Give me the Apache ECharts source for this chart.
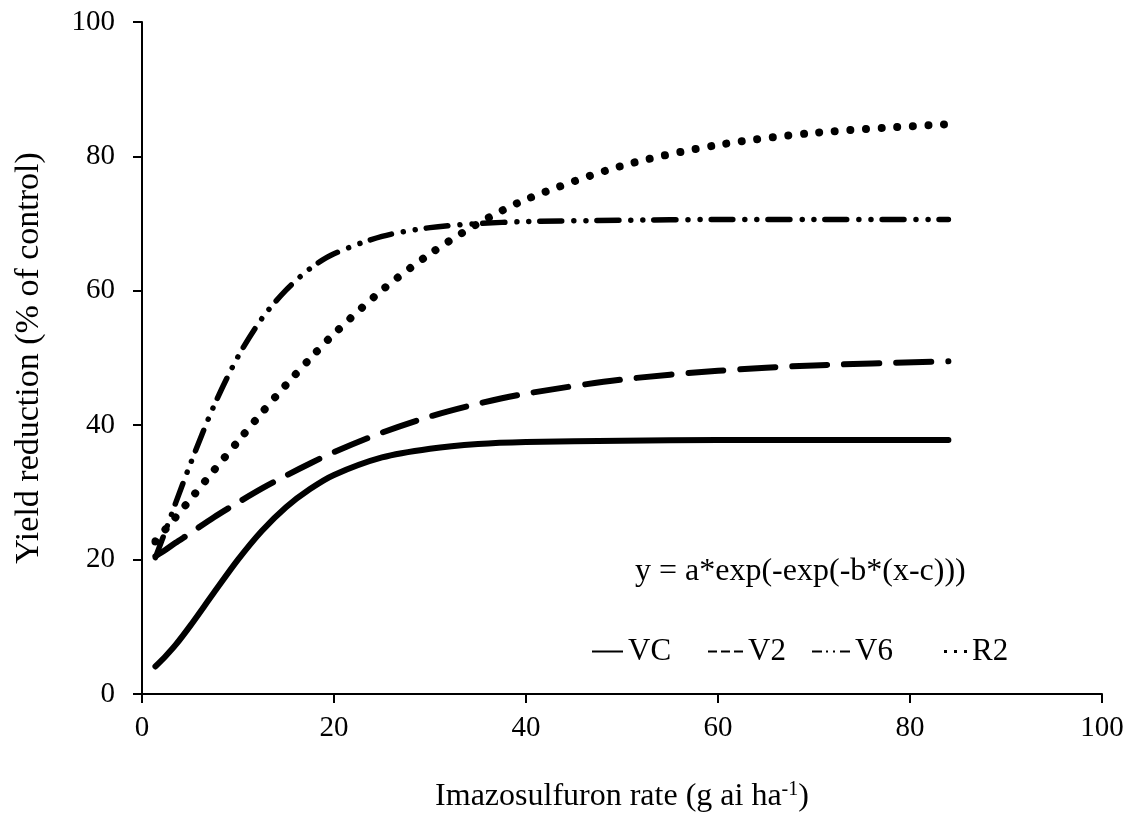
<!DOCTYPE html>
<html>
<head>
<meta charset="utf-8">
<script src="https://cdn.jsdelivr.net/npm/echarts@6/dist/echarts.min.js"></script>
<style>
html,body{margin:0;padding:0;background:#fff;}
#chart{width:1131px;height:821px;}
</style>
</head>
<body>
<div id="chart"></div>
<script>
// Imazosulfuron rate (g ai/ha)
var rates = [1.4, 2.5, 3.5, 5, 7.5, 10, 12.5, 15, 17.5, 20, 25, 30, 35, 40, 50, 60, 70, 84];
// Yield reduction (% of control)
var vcValues = [4.1, 5.7, 7.3, 10.1, 15.1, 20.0, 24.3, 27.8, 30.5, 32.6, 35.2, 36.5, 37.2, 37.5, 37.7, 37.8, 37.8, 37.8];
var v2Values = [20.5, 21.5, 22.5, 23.9, 26.3, 28.5, 30.6, 32.5, 34.3, 36.0, 38.9, 41.3, 43.2, 44.7, 46.8, 48.1, 48.9, 49.5];
var v6Values = [20.3, 24.5, 28.4, 34.1, 42.9, 50.2, 55.9, 60.1, 63.3, 65.5, 68.1, 69.4, 70.0, 70.3, 70.5, 70.6, 70.6, 70.6];
var r2Values = [22.7, 24.6, 26.3, 28.9, 33.3, 37.6, 41.9, 46.0, 49.9, 53.6, 60.1, 65.5, 70.0, 73.6, 78.6, 81.7, 83.5, 84.8];
var seriesNames = ['VC', 'V2', 'V6', 'R2'];
var equationText = 'y = a*exp(-exp(-b*(x-c)))';
var xTitle = 'Imazosulfuron rate (g ai ha';
var yTitle = 'Yield reduction (% of control)';

function pairs(ys) { return rates.map(function (x, i) { return [x, ys[i]]; }); }

var FONT = 'Liberation Serif';
var chart = echarts.init(document.getElementById('chart'), null, {renderer: 'canvas'});

function mkLegend(name, icon, w, left) {
  return {
    data: [{name: name, icon: icon}],
    left: left, top: 636, padding: 0,
    itemWidth: w, itemHeight: 3,
    selectedMode: false,
    textStyle: {fontFamily: FONT, fontSize: 31, color: '#000'}
  };
}

var option = {
  backgroundColor: '#fff',
  animation: false,
  title: {
    text: equationText, left: 635, top: 556, padding: 0,
    textStyle: {fontFamily: FONT, fontSize: 32, fontWeight: 'normal', color: '#000'}
  },
  legend: [
    mkLegend(seriesNames[0], 'path://M0,0H31V2H0Z', 31, 592),
    mkLegend(seriesNames[1], 'path://M0,0H9V2H0Z M13,0H22V2H13Z M26,0H35V2H26Z', 35, 708),
    mkLegend(seriesNames[2], 'path://M0,0H10V2H0Z M14,0H16V2H14Z M21,0H23V2H21Z M28,0H38V2H28Z', 38, 812),
    mkLegend(seriesNames[3], 'path://M0,0H3V3H0Z M10,0H13V3H10Z M20,0H23V3H20Z', 23, 944)
  ],
  grid: {left: 142, right: 29, top: 22, bottom: 127, containLabel: false},
  xAxis: {
    type: 'value', min: 0, max: 100, interval: 20,
    name: '{a|' + xTitle + '}{s|-1}{a|)}',
    nameLocation: 'middle', nameGap: 86,
    nameTextStyle: {
      rich: {
        a: {fontFamily: FONT, fontSize: 32, color: '#000'},
        s: {fontFamily: FONT, fontSize: 20, color: '#000', verticalAlign: 'top', padding: [0, 0, 14, 0]}
      }
    },
    axisLine: {show: true, lineStyle: {color: '#000', width: 2}},
    axisTick: {show: true, inside: false, length: 9, lineStyle: {color: '#000', width: 2}},
    axisLabel: {fontFamily: FONT, fontSize: 29, color: '#000', margin: 20},
    splitLine: {show: false}
  },
  yAxis: {
    type: 'value', min: 0, max: 100, interval: 20,
    name: yTitle, nameLocation: 'middle', nameGap: 96, nameRotate: 90,
    nameTextStyle: {fontFamily: FONT, fontSize: 34, color: '#000'},
    axisLine: {show: true, lineStyle: {color: '#000', width: 2}},
    axisTick: {show: true, inside: false, length: 9, lineStyle: {color: '#000', width: 2}},
    axisLabel: {fontFamily: FONT, fontSize: 29, color: '#000', margin: 27},
    splitLine: {show: false}
  },
  series: [
    {name: seriesNames[0], type: 'line', data: pairs(vcValues), smooth: 0.3, showSymbol: false, color: '#000',
     lineStyle: {color: '#000', width: 6, type: 'solid', cap: 'round', join: 'round'}},
    {name: seriesNames[1], type: 'line', data: pairs(v2Values), smooth: 0.3, showSymbol: false, color: '#000',
     lineStyle: {color: '#000', width: 6, type: [35, 17], cap: 'round', join: 'round'}},
    {name: seriesNames[2], type: 'line', data: pairs(v6Values), smooth: 0.3, showSymbol: false, color: '#000',
     lineStyle: {color: '#000', width: 5.5, type: [22, 12, 0.01, 12, 0.01, 11], cap: 'round', join: 'round'}},
    {name: seriesNames[3], type: 'line', data: pairs(r2Values), smooth: 0.3, showSymbol: false, color: '#000',
     lineStyle: {color: '#000', width: 8, type: [0.01, 15.6], cap: 'round', join: 'round'}}
  ]
};
chart.setOption(option);
</script>
</body>
</html>
